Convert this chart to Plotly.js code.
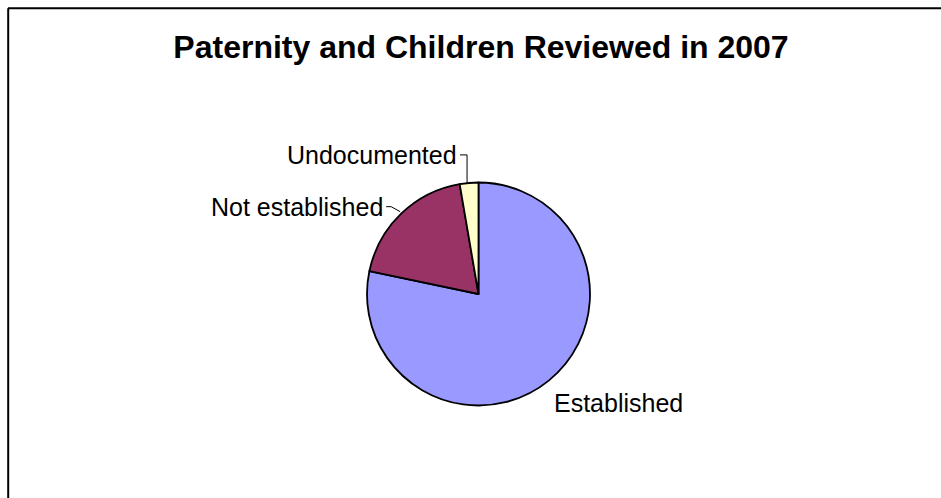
<!DOCTYPE html>
<html>
<head>
<meta charset="utf-8">
<script src="https://cdn.plot.ly/plotly-3.0.1.min.js"></script>
<style>html,body{margin:0;padding:0;background:#fff;}#chart{width:941px;height:498px;}</style>
</head>
<body>
<div id="chart"></div>
<script>
var categories = ["Established", "Not established", "Undocumented"];
var shares = [78.3, 19.0, 2.7];
var sliceColors = ["#9999FF", "#993366", "#FFFFCC"];
var chartTitle = "Paternity and Children Reviewed in 2007";

var W = 941, H = 498;
var cx = 478.5, cy = 294, r = 111.5;
var fontFam = "Liberation Sans, Arial, sans-serif";

// label placement (layout only): text anchor relative to slice mid-edge point
var labelStyle = [
  {dx: 3, dy: 22, xanchor: "left", leader: null},
  {dx: -16, dy: -7, xanchor: "right", leader: "bent"},
  {dx: -10, dy: -28, xanchor: "right", leader: "vertical"}
];

function px(x) { return x / W; }
function py(y) { return 1 - y / H; }

var total = shares.reduce(function (a, b) { return a + b; }, 0);
var annotations = [];
var shapes = [
  {type: "line", xref: "paper", yref: "paper", x0: px(8), x1: 1.02, y0: py(8.3), y1: py(8.3), line: {color: "#000000", width: 2}},
  {type: "line", xref: "paper", yref: "paper", x0: px(8.2), x1: px(8.2), y0: -0.02, y1: py(8.3), line: {color: "#000000", width: 2}}
];

var cum = 0;
categories.forEach(function (name, i) {
  var mid = (cum + shares[i] / 2) / total * 2 * Math.PI; // clockwise from 12 o'clock
  cum += shares[i];
  var ex = cx + r * Math.sin(mid), ey = cy - r * Math.cos(mid);
  var st = labelStyle[i];
  var tx = ex + st.dx, ty = ey + st.dy;
  annotations.push({
    xref: "paper", yref: "paper", x: px(tx), y: py(ty),
    xanchor: st.xanchor, yanchor: "middle", showarrow: false,
    text: name, font: {family: fontFam, size: 25, color: "#000000"}
  });
  if (st.leader === "vertical") {
    shapes.push({type: "path", xref: "paper", yref: "paper",
      path: "M" + px(tx + 1) + "," + py(ty) + " L" + px(ex - 2) + "," + py(ty) + " L" + px(ex - 2) + "," + py(ey),
      line: {color: "#000000", width: 1}});
  } else if (st.leader === "bent") {
    shapes.push({type: "path", xref: "paper", yref: "paper",
      path: "M" + px(tx + 1) + "," + py(ty) + " L" + px(tx + 6) + "," + py(ty) + " L" + px(ex - 1) + "," + py(ey - 2),
      line: {color: "#000000", width: 1}});
  }
});

var trace = {
  type: "pie",
  labels: categories,
  values: shares,
  sort: false,
  direction: "clockwise",
  rotation: 0,
  marker: {colors: sliceColors, line: {color: "#000000", width: 1.8}},
  textinfo: "none",
  automargin: false,
  showlegend: false,
  hoverinfo: "label+percent",
  domain: {x: [(cx - r) / W, (cx + r) / W], y: [(H - cy - r) / H, (H - cy + r) / H]}
};

var layout = {
  width: W, height: H,
  margin: {l: 0, r: 0, t: 0, b: 0},
  paper_bgcolor: "#ffffff",
  showlegend: false,
  title: {
    text: "<b>" + chartTitle + "</b>",
    font: {family: fontFam, size: 32, color: "#000000"},
    x: 481 / W, xanchor: "center",
    y: 1 - 47 / H, yanchor: "middle", yref: "container"
  },
  annotations: annotations,
  shapes: shapes
};

Plotly.newPlot("chart", [trace], layout, {displayModeBar: false, staticPlot: true});
</script>
</body>
</html>
